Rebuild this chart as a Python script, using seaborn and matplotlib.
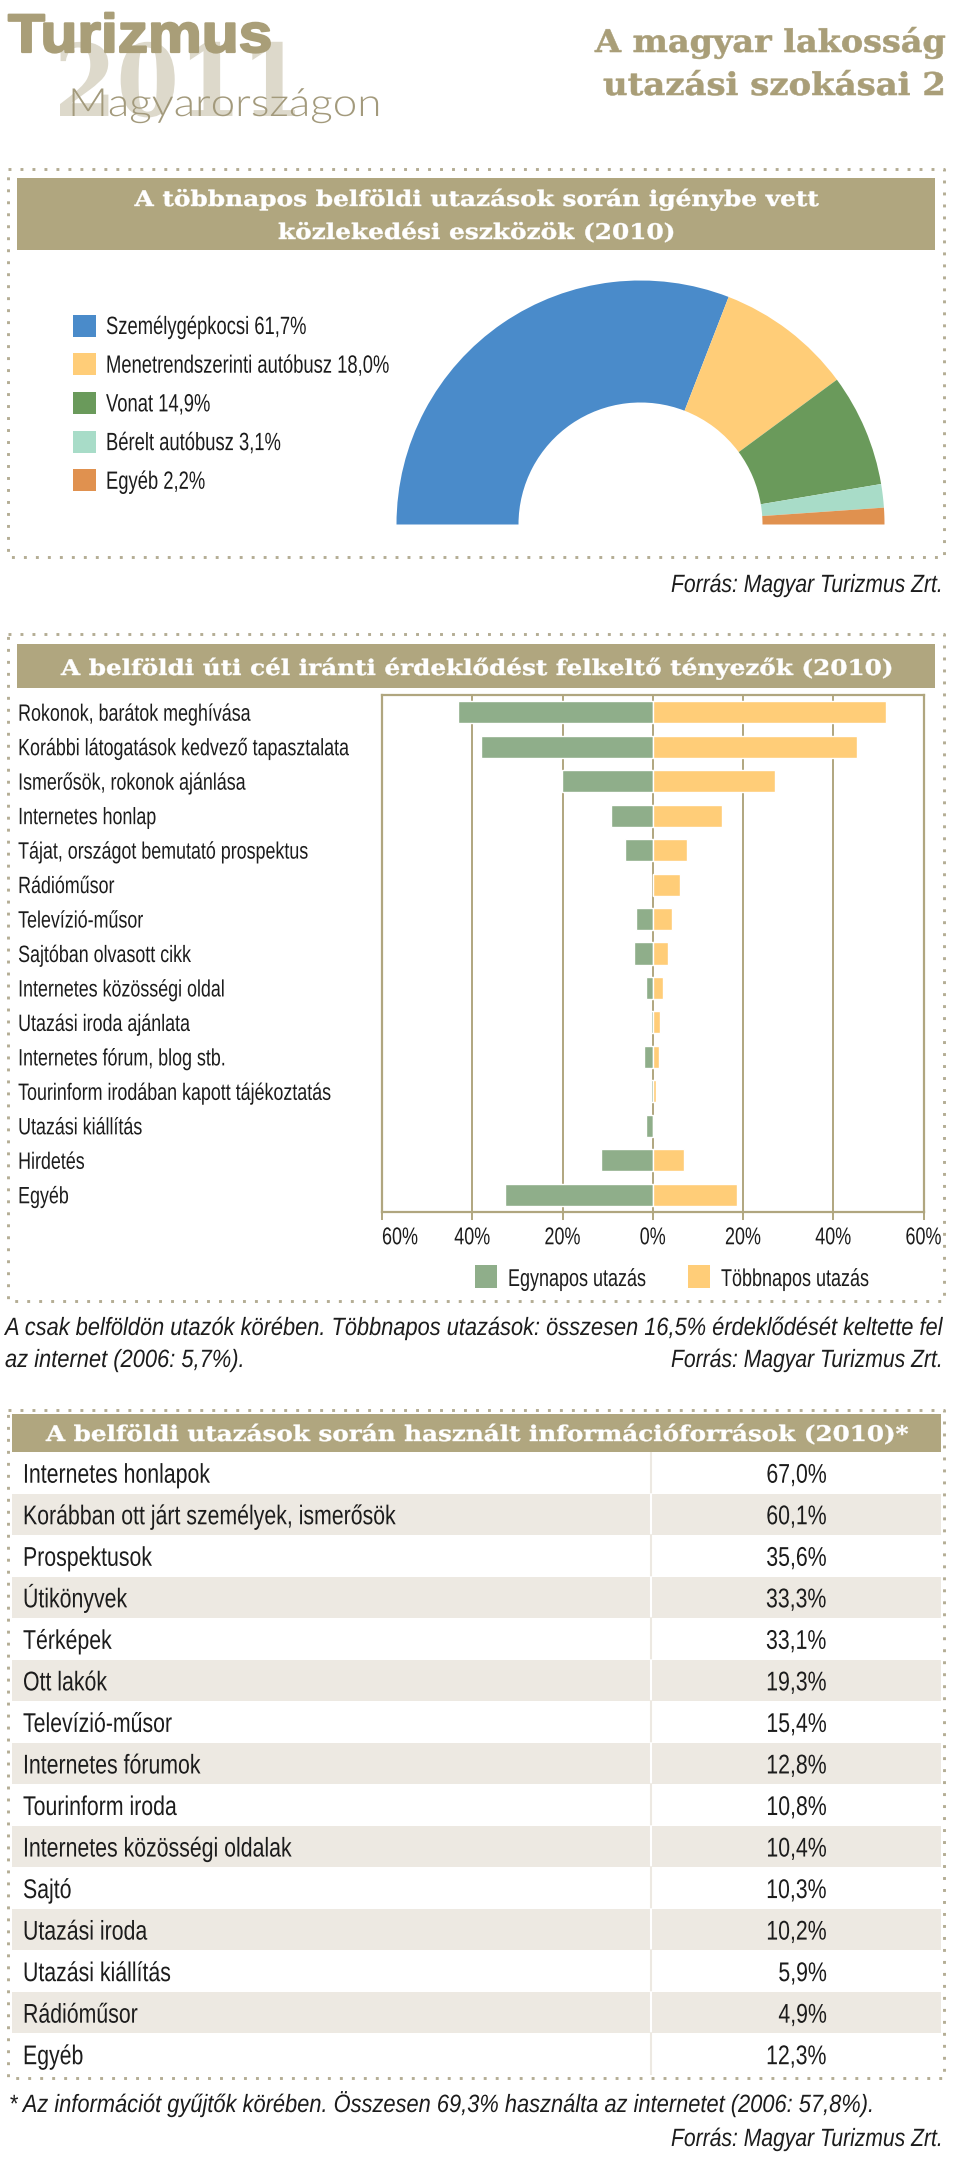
import matplotlib
matplotlib.use('Agg')
import matplotlib.pyplot as plt
import matplotlib.patheffects as pe
from matplotlib.transforms import Affine2D, Bbox
import pandas as pd
import seaborn as sns

# adatok
transport_labels = ['Személygépkocsi 61,7%', 'Menetrendszerinti autóbusz 18,0%', 'Vonat 14,9%',
                    'Bérelt autóbusz 3,1%', 'Egyéb 2,2%']
transport_values = [61.7, 18.0, 14.9, 3.1, 2.2]

factors = ['Rokonok, barátok meghívása', 'Korábbi látogatások kedvező tapasztalata',
           'Ismerősök, rokonok ajánlása', 'Internetes honlap', 'Tájat, országot bemutató prospektus',
           'Rádióműsor', 'Televízió-műsor', 'Sajtóban olvasott cikk', 'Internetes közösségi oldal',
           'Utazási iroda ajánlata', 'Internetes fórum, blog stb.', 'Tourinform irodában kapott tájékoztatás',
           'Utazási kiállítás', 'Hirdetés', 'Egyéb']
one_day = [43.2, 38.1, 20.2, 9.2, 6.1, 0.0, 3.7, 4.2, 1.4, 0.4, 1.9, 0.4, 1.4, 11.5, 32.8]
multi_day = [51.7, 45.2, 27.0, 15.3, 7.7, 6.0, 4.2, 3.4, 2.2, 1.6, 1.4, 0.8, 0.1, 6.9, 18.7]
x_ticks = [-60, -40, -20, 0, 20, 40, 60]
x_tick_labels = ['60%', '40%', '20%', '0%', '20%', '40%', '60%']

sources = ['Internetes honlapok', 'Korábban ott járt személyek, ismerősök', 'Prospektusok', 'Útikönyvek',
           'Térképek', 'Ott lakók', 'Televízió-műsor', 'Internetes fórumok', 'Tourinform iroda',
           'Internetes közösségi oldalak', 'Sajtó', 'Utazási iroda', 'Utazási kiállítás', 'Rádióműsor', 'Egyéb']
source_values = ['67,0%', '60,1%', '35,6%', '33,3%', '33,1%', '19,3%', '15,4%', '12,8%', '10,8%',
                 '10,4%', '10,3%', '10,2%', '5,9%', '4,9%', '12,3%']

# szinek
TAN = '#b0a67f'
TITLE_TAN = '#a99e78'
DOT = '#b4ad94'
STRIPE = '#ede9e2'
pie_colors = ['#4a8bca', '#ffcd78', '#6a9a5b', '#a8dcc8', '#e0914f']
bar_green = '#8fae8a'
bar_yellow = '#ffcd78'
INK = '#1c1c1c'

sns.set_theme(style='white')
SERIF = ['DejaVu Serif']
plt.rcParams['font.family'] = ['Liberation Sans']

W, H = 960, 2157
fig = plt.figure(figsize=(W / 100, H / 100), dpi=100, facecolor='white')


class Squeeze(pe.AbstractPathEffect):
    # nincs keskeny betutipus, igy vizszintesen nyomjuk ossze a szoveget
    def __init__(self, text, sx, sy=1, stroke=0):
        super().__init__()
        self.text, self.sx, self.sy, self.stroke = text, sx, sy, stroke

    def draw_path(self, renderer, gc, tpath, affine, rgbFace=None):
        x0, y0 = self.text.get_transform().transform(self.text.get_position())
        aff = affine + Affine2D().translate(-x0, -y0).scale(self.sx, self.sy).translate(x0, y0)
        gc0 = renderer.new_gc()
        gc0.copy_properties(gc)
        if self.stroke:
            gc0.set_linewidth(self.stroke)
            gc0.set_foreground(rgbFace)
        renderer.draw_path(gc0, tpath, aff, rgbFace)
        gc0.restore()


def squeeze(t, sx=None, width=None, sy=1, stroke=0):
    orig = t.get_window_extent
    if width is not None:
        sx = width / orig(fig.canvas.get_renderer()).width
    t.set_path_effects([Squeeze(t, sx, sy, stroke)])

    def extent(renderer=None, dpi=None):
        bb = orig(renderer, dpi)
        x0, y0 = t.get_transform().transform(t.get_position())
        return Bbox([[x0 + (bb.x0 - x0) * sx, y0 + (bb.y0 - y0) * sy],
                     [x0 + (bb.x1 - x0) * sx, y0 + (bb.y1 - y0) * sy]])

    t.get_window_extent = extent
    return t


def px_axes(x0, y0, x1, y1, **kw):
    # tengely pixel koordinatakkal (y lefele)
    return fig.add_axes([x0 / W, 1 - y1 / H, (x1 - x0) / W, (y1 - y0) / H], **kw)


# hatter reteg a szovegeknek, dobozoknak
bg = px_axes(0, 0, W, H)
bg.set_xlim(0, W)
bg.set_ylim(H, 0)
bg.axis('off')


def dotted_box(x0, y0, x1, y1):
    xs = [x0, x1, x1, x0, x0]
    ys = [y0, y0, y1, y1, y0]
    bg.plot(xs, ys, color=DOT, lw=2.1, linestyle=(0, (1, 3.11)), dash_capstyle='butt', zorder=1)


def band(x0, y0, x1, y1, lines, baselines, widths):
    bg.fill_between([x0, x1], y0, y1, color=TAN, lw=0, zorder=2)
    for line, yb, w in zip(lines, baselines, widths):
        t = bg.text((x0 + x1) / 2, yb, line, color='white', family=SERIF, weight='bold', fontsize=15.5,
                    ha='center', va='baseline', zorder=3)
        squeeze(t, width=w, stroke=0.3)


def source_note(y):
    t = bg.text(943, y, 'Forrás: Magyar Turizmus Zrt.', style='italic', fontsize=18, color=INK,
                ha='right', va='baseline')
    squeeze(t, width=272)


def note(x, y, s, width):
    # kisebb betu + fuggoleges nyujtas, hogy a hosszu sor beferjen
    squeeze(bg.text(x, y, s, style='italic', fontsize=15, color=INK, va='baseline'), width=width, sy=1.2)


# fejlec
t = bg.text(54, 116, '2011', family=SERIF, weight='bold', fontsize=72, color='#ddd9cb', va='baseline', zorder=1)
squeeze(t, width=250)
t = bg.text(8, 52, 'Turizmus', weight='bold', fontsize=39, color=TITLE_TAN, va='baseline', zorder=2)
squeeze(t, width=264, stroke=1.6)
t = bg.text(68, 116, 'Magyarországon', family='Lato', weight=300, fontsize=28, color='#a39a7c',
            va='baseline', zorder=3)
squeeze(t, width=313)
t = bg.text(946, 52, 'A magyar lakosság', family=SERIF, weight='bold', fontsize=22.5, color=TITLE_TAN,
            ha='right', va='baseline')
squeeze(t, width=351, stroke=0.4)
t = bg.text(946, 95, 'utazási szokásai 2', family=SERIF, weight='bold', fontsize=22.5, color=TITLE_TAN,
            ha='right', va='baseline')
squeeze(t, width=343, stroke=0.4)

# 1. felkor diagram
dotted_box(8, 169, 944, 557)
band(17, 178, 935, 250, ['A többnapos belföldi utazások során igénybe vett', 'közlekedési eszközök (2010)'],
     [206, 239], [683, 396])

ax_pie = px_axes(396.5, 280.5, 884.5, 768.5)
wedges, _ = ax_pie.pie(transport_values + [sum(transport_values)], colors=pie_colors + ['white'],
                       startangle=180, counterclock=False, radius=1,
                       wedgeprops={'width': 0.5, 'linewidth': 0})
wedges[-1].set_visible(False)
ax_pie.set_xlim(-1, 1)
ax_pie.set_ylim(-1, 1)
ax_pie.patch.set_alpha(0)

for i, (label, color) in enumerate(zip(transport_labels, pie_colors)):
    yc = 325.5 + i * 38.7
    bg.fill_between([73, 95.5], yc - 11, yc + 11, color=color, lw=0)
    squeeze(bg.text(106, yc + 8.5, label, fontsize=18, color=INK, va='baseline'), sx=0.736)

source_note(592)

# 2. kétoldalas oszlopok
dotted_box(8, 634, 944, 1301)
band(17, 644, 935, 688, ['A belföldi úti cél iránti érdeklődést felkeltő tényezők (2010)'], [675], [830])

df = pd.DataFrame({
    'tenyezo': factors * 2,
    'ertek': [-v for v in one_day] + multi_day,
    'tipus': ['Egynapos utazás'] * len(factors) + ['Többnapos utazás'] * len(factors),
})
ax_bar = px_axes(382, 695, 923.5, 1212)
sns.barplot(data=df, y='tenyezo', x='ertek', hue='tipus', dodge=False, width=0.64,
            palette={'Egynapos utazás': bar_green, 'Többnapos utazás': bar_yellow},
            saturation=1, legend=False, ax=ax_bar, zorder=3)
ax_bar.set_xlim(-60, 60)
ax_bar.set_ylim(14.5, -0.5)
ax_bar.set_xlabel('')
ax_bar.set_ylabel('')
ax_bar.set_xticks(x_ticks)
ax_bar.set_xticklabels(x_tick_labels, fontsize=17.5, color=INK)
ax_bar.get_xticklabels()[0].set_ha('left')
ax_bar.grid(axis='x', color=TAN, lw=1.4, zorder=0)
ax_bar.set_axisbelow(True)
ax_bar.tick_params(axis='x', length=6, width=1.4, color=TAN, pad=5, bottom=True)
ax_bar.tick_params(axis='y', length=0, pad=262)
for lab in ax_bar.get_xticklabels():
    squeeze(lab, sx=0.74)
for lab in ax_bar.get_yticklabels():
    lab.set_ha('left')
    lab.set_va('center_baseline')
    lab.set_fontsize(17)
    lab.set_color(INK)
    squeeze(lab, sx=0.757)
for sp in ax_bar.spines.values():
    sp.set_color(TAN)
    sp.set_linewidth(1.6)

for x_sw, x_txt, name, color in [(475, 508, 'Egynapos utazás', bar_green), (688, 721, 'Többnapos utazás', bar_yellow)]:
    bg.fill_between([x_sw, x_sw + 22], 1265, 1288, color=color, lw=0)
    squeeze(bg.text(x_txt, 1286, name, fontsize=17.5, color=INK, va='baseline'), sx=0.74)

note(5, 1335, 'A csak belföldön utazók körében. Többnapos utazások: összesen 16,5% érdeklődését keltette fel', 940)
note(5, 1367, 'az internet (2006: 5,7%).', 240)
source_note(1367)

# 3. táblázat
dotted_box(8, 1410, 944, 2078)
band(12, 1414, 941, 1452, ['A belföldi utazások során használt információforrások (2010)*'], [1441], [861])

ax_tab = px_axes(12, 1452, 941, 2075)
ax_tab.set_xlim(12, 941)
ax_tab.set_ylim(len(sources), 0)
ax_tab.axis('off')
for i, (name, val) in enumerate(zip(sources, source_values)):
    if i % 2 == 1:
        ax_tab.axhspan(i, i + 1, color=STRIPE, lw=0)
    ax_tab.plot([651, 651], [i, i + 1], color='white' if i % 2 else STRIPE, lw=1.5)
    squeeze(ax_tab.text(23, i + 0.74, name, fontsize=19.5, color=INK, va='baseline'), sx=0.786)
    squeeze(ax_tab.text(827, i + 0.74, val, fontsize=19.5, color=INK, va='baseline', ha='right'), sx=0.786)

note(9, 2112, '* Az információt gyűjtők körében. Összesen 69,3% használta az internetet (2006: 57,8%).', 867)
source_note(2146)

fig.savefig('out.png', dpi=100)
